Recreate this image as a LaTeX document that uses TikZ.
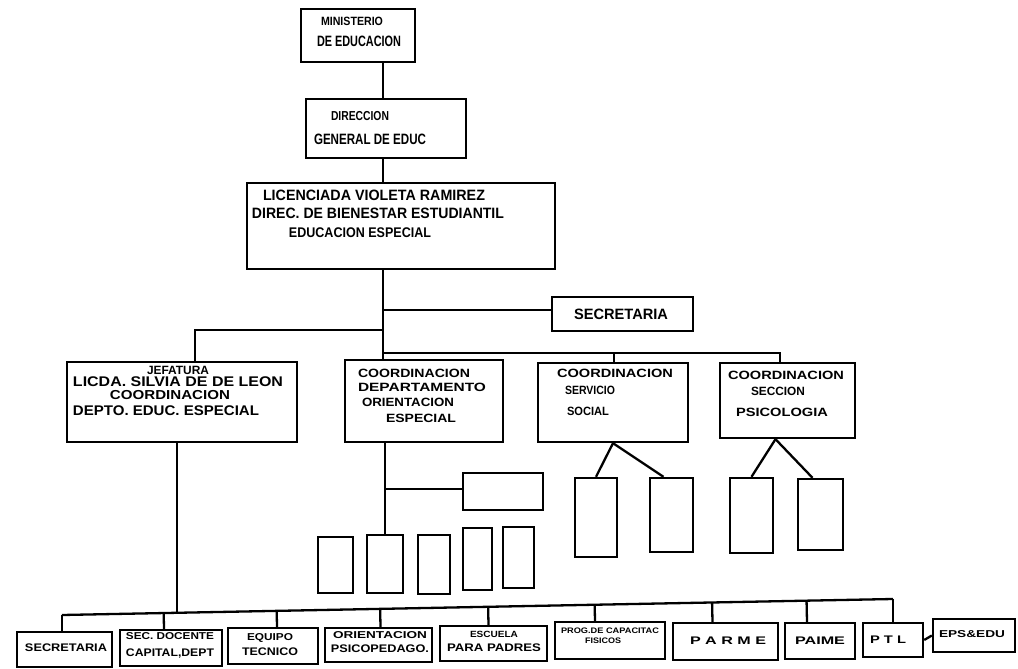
\documentclass[tikz,border=0pt]{standalone}
\usepackage{fontspec}
\setmainfont{Liberation Sans}
\usepackage{graphicx}
\usetikzlibrary{fit,calc}
\newcommand\fw[2]{\resizebox{#1pt}{\height}{#2}}
\begin{document}
\begin{tikzpicture}[x=1pt,y=-1pt,
  box/.style={draw, line width=2.4pt, inner sep=0pt},
  conn/.style={line width=2.3pt},
  t/.style={inner sep=0pt, font=\bfseries\fontsize{#1}{#1}\selectfont},
  tb/.style={inner sep=0pt, font=\bfseries\fontsize{#1}{#1}\selectfont}]
\fill[white] (0,0) rectangle (1018,669);
\useasboundingbox (0,0) rectangle (1018,669);

% ---------- top chain ----------
\node[box, fit={(301,9)(415,62)}] (min) {};
\node[t=12] (min1) at (352,21) {\fw{62}{MINISTERIO}};
\node[t=15] (min2) at (359,41) {\fw{84}{DE EDUCACION}};

\node[box, fit={(306,99)(466,158)}] (dir) {};
\node[t=13] (dir1) at (360,116) {\fw{58}{DIRECCION}};
\node[t=15] (dir2) at (370,139) {\fw{112}{GENERAL DE EDUC}};

\node[box, fit={(247,183)(555,269)}] (vio) {};
\node[t=15] (vio1) at (374,195) {\fw{222}{LICENCIADA VIOLETA RAMIREZ}};
\node[t=15] (vio2) at (378,213) {\fw{252}{DIREC. DE BIENESTAR ESTUDIANTIL}};
\node[t=14] (vio3) at (360,233) {\fw{142}{EDUCACION ESPECIAL}};

\node[box, fit={(552,297)(693,331)}] (sec) {};
\node[t=15] (sec1) at (621,314) {\fw{94}{SECRETARIA}};

% ---------- second row ----------
\node[box, fit={(67,362)(297,442)}] (jef) {};
\node[t=12] (jef1) at (178,370) {\fw{62}{JEFATURA}};
\node[t=14] (jef2) at (178,382) {\fw{210}{LICDA. SILVIA DE DE LEON}};
\node[t=13] (jef3) at (170,395) {\fw{120}{COORDINACION}};
\node[t=14] (jef4) at (166,411) {\fw{186}{DEPTO. EDUC. ESPECIAL}};

\node[box, fit={(345,360)(503,442)}] (cd) {};
\node[t=12] (cd1) at (414,373) {\fw{112}{COORDINACION}};
\node[t=12] (cd2) at (422,387) {\fw{128}{DEPARTAMENTO}};
\node[t=12] (cd3) at (408,402) {\fw{92}{ORIENTACION}};
\node[t=12] (cd4) at (421,418) {\fw{70}{ESPECIAL}};

\node[box, fit={(538,363)(688,442)}] (ser) {};
\node[t=12] (ser1) at (615,373) {\fw{116}{COORDINACION}};
\node[t=12] (ser2) at (590,390) {\fw{50}{SERVICIO}};
\node[t=12] (ser3) at (588,411) {\fw{42}{SOCIAL}};

\node[box, fit={(720,363)(855,438)}] (psi) {};
\node[t=12] (psi1) at (786,375) {\fw{116}{COORDINACION}};
\node[t=12] (psi2) at (778,391) {\fw{54}{SECCION}};
\node[t=12] (psi3) at (782,412) {\fw{92}{PSICOLOGIA}};

% ---------- empty boxes ----------
\node[box, fit={(463,473)(543,510)}] (wide) {};
\node[box, fit={(318,537)(353,593)}] (m1) {};
\node[box, fit={(367,535)(403,593)}] (m2) {};
\node[box, fit={(418,535)(450,594)}] (m3) {};
\node[box, fit={(463,528)(492,590)}] (m4) {};
\node[box, fit={(503,527)(534,588)}] (m5) {};
\node[box, fit={(575,478)(617,557)}] (f) {};
\node[box, fit={(650,478)(693,552)}] (g) {};
\node[box, fit={(730,478)(773,553)}] (h) {};
\node[box, fit={(798,479)(843,550)}] (i) {};

% ---------- bottom row ----------
\node[box, fit={(17,632)(112,667)}] (b1) {};
\node[tb=11] (b1a) at (66,648) {\fw{82}{SECRETARIA}};
\node[box, fit={(120,630)(222,666)}] (b2) {};
\node[tb=10] (b2a) at (170,636) {\fw{88}{SEC. DOCENTE}};
\node[tb=11] (b2b) at (170,654) {\fw{88}{CAPITAL,DEPT}};
\node[box, fit={(228,628)(318,664)}] (b3) {};
\node[tb=10] (b3a) at (270,638) {\fw{46}{EQUIPO}};
\node[tb=11] (b3b) at (270,652) {\fw{56}{TECNICO}};
\node[box, fit={(325,628)(432,662)}] (b4) {};
\node[tb=10] (b4a) at (380,635) {\fw{94}{ORIENTACION}};
\node[tb=11] (b4b) at (380,649) {\fw{98}{PSICOPEDAGO.}};
\node[box, fit={(440,626)(547,661)}] (b5) {};
\node[tb=9] (b5a) at (494,634) {\fw{48}{ESCUELA}};
\node[tb=11] (b5b) at (494,648) {\fw{94}{PARA PADRES}};
\node[box, fit={(555,622)(665,659)}] (b6) {};
\node[tb=8] (b6a) at (610,631) {\fw{98}{PROG.DE CAPACITAC}};
\node[tb=8] (b6b) at (603,641) {\fw{36}{FISICOS}};
\node[box, fit={(673,623)(778,660)}] (b7) {};
\node[tb=11] (b7a) at (728,641) {\fw{76}{P A R M E}};
\node[box, fit={(785,623)(855,659)}] (b8) {};
\node[tb=11] (b8a) at (820,641) {\fw{50}{PAIME}};
\node[box, fit={(863,623)(923,657)}] (b9) {};
\node[tb=11] (b9a) at (888,640) {\fw{36}{P T L}};
\node[box, fit={(933,619)(1015,652)}] (b10) {};
\node[tb=10] (b10a) at (972,634) {\fw{66}{EPS\&EDU}};

% ---------- connectors ----------
\coordinate (spine) at (383,0);
\draw[conn] (min.south -| spine) -- (dir.north -| spine);
\draw[conn] (dir.south -| spine) -- (vio.north -| spine);
\draw[conn] (vio.south -| spine) -- (cd.north -| spine);
\coordinate (jL) at (383,330);
\coordinate (jefx) at (195,0);
\draw[conn] (jL) -| (jef.north -| jefx);
\coordinate (jS) at (383,310);
\draw[conn] (jS) -- (sec.west |- jS);
\coordinate (jR) at (383,353);
\coordinate (psix) at (780,0);
\draw[conn] (jR) -| (psi.north -| psix);
\coordinate (serx) at (614,0);
\draw[conn] (jR -| serx) -- (ser.north -| serx);

\coordinate (cdx) at (385,0);
\draw[conn] (cd.south -| cdx) -- (m2.north -| cdx);
\coordinate (jW) at (385,489);
\draw[conn] (jW) -- (wide.west |- jW);

\draw[conn] (ser.south) -- (f.north);
\draw[conn] (ser.south) -- ([xshift=-8pt]g.north);
\coordinate (pa) at ([xshift=-12pt]psi.south);
\draw[conn] (pa) -- (h.north);
\draw[conn] (pa) -- ([xshift=-8pt]i.north);

% bottom bus
\coordinate (bL) at (62,615);
\coordinate (bR) at (893,599);
\draw[conn] (bL) -- (bR);
\coordinate (jB) at (177,613);
\draw[conn] (jef.south -| jB) -- (jB);
\draw[conn] (bL) -- (bL |- b1.north);
\draw[conn] (bR) -- (bR |- b9.north);
\coordinate (s2) at ([xshift=-7pt]b2.north);
\coordinate (s3) at ([xshift=4pt]b3.north);
\coordinate (s4) at ([xshift=2pt]b4.north);
\coordinate (s5) at ([xshift=-5pt]b5.north);
\coordinate (s6) at ([xshift=-15pt]b6.north);
\coordinate (s7) at ([xshift=-13pt]b7.north);
\coordinate (s8) at ([xshift=-13pt]b8.north);
\foreach \s in {s2,s3,s4,s5,s6,s7,s8}
  \draw[conn] (\s) -- ($(bL)!(\s)!(bR)$);
\draw[conn] (b9.east) -- (b10.west);
\end{tikzpicture}
\end{document}
